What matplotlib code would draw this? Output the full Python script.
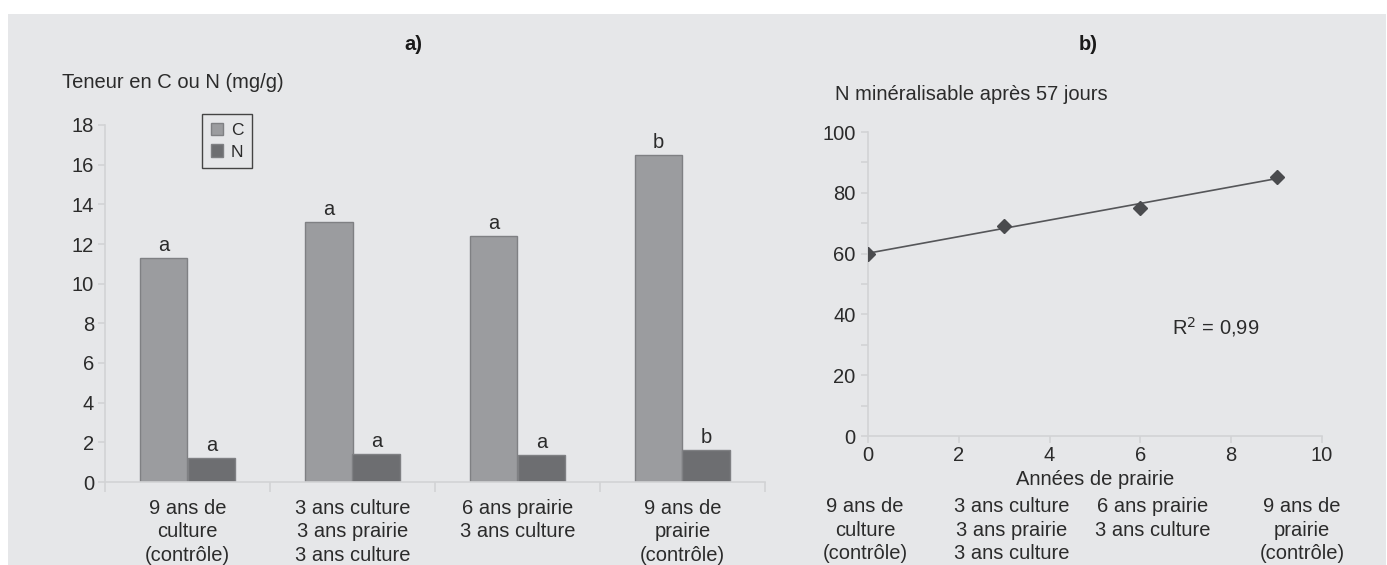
import matplotlib
matplotlib.use("Agg")
import matplotlib.pyplot as plt
import numpy as np
from matplotlib.patches import Rectangle, Patch

plt.rcParams['font.family'] = ['Liberation Sans', 'DejaVu Sans']

# ---- Data ----
categories = ["9 ans de\nculture\n(contrôle)",
              "3 ans culture\n3 ans prairie\n3 ans culture",
              "6 ans prairie\n3 ans culture",
              "9 ans de\nprairie\n(contrôle)"]
C_values = [11.3, 13.1, 12.4, 16.5]
N_values = [1.2, 1.4, 1.35, 1.6]
C_letters = ["a", "a", "a", "b"]
N_letters = ["a", "a", "a", "b"]

years_prairie = [0, 3, 6, 9]
N_mineral = [60.0, 69.2, 75.1, 85.3]
r2_text = "R$^2$ = 0,99"

W, H = 1387, 565
BG = "#e6e7e9"
C_COL = "#9b9c9f"
N_COL = "#6d6e71"
EDGE = "#7f8083"
AX_COL = "#d2d3d5"
TXT = "#2b2b2b"
FS = 14.5
LS = 1.3

fig = plt.figure(figsize=(W / 100, H / 100), dpi=100)
fig.patch.set_facecolor("white")
fig.patches.append(Rectangle((8 / W, 0), (W - 9) / W, (H - 14) / H,
                             transform=fig.transFigure, facecolor=BG,
                             edgecolor="none", zorder=-10))

def px_axes(l, t, r, b):
    return fig.add_axes([l / W, 1 - b / H, (r - l) / W, (b - t) / H])

def style(ax):
    ax.set_facecolor("none")
    for s in ["top", "right"]:
        ax.spines[s].set_visible(False)
    for s in ["left", "bottom"]:
        ax.spines[s].set_color(AX_COL)
        ax.spines[s].set_linewidth(1.2)
    ax.tick_params(which="both", colors=AX_COL, labelcolor=TXT,
                   labelsize=FS, width=1.2)

# ---- Panel a ----
axa = px_axes(105, 125, 765, 482)
style(axa)
x = np.arange(len(categories)) + 0.5
bw = 0.29
axa.bar(x - bw / 2, C_values, bw, color=C_COL, edgecolor=EDGE, linewidth=1.0, label="C")
axa.bar(x + bw / 2, N_values, bw, color=N_COL, edgecolor=EDGE, linewidth=1.0, label="N")
for xi, v, l in zip(x - bw / 2, C_values, C_letters):
    axa.annotate(l, (xi, v), xytext=(0, 2), textcoords="offset points",
                 ha="center", va="bottom", fontsize=FS, color=TXT)
for xi, v, l in zip(x + bw / 2, N_values, N_letters):
    axa.annotate(l, (xi, v), xytext=(0, 2), textcoords="offset points",
                 ha="center", va="bottom", fontsize=FS, color=TXT)
axa.set_xlim(0, len(categories))
axa.set_ylim(0, 18)
axa.set_yticks(np.arange(0, 19, 2))
axa.tick_params(axis="y", length=5, pad=3)
axa.set_xticks(np.arange(0, len(categories) + 1))
axa.set_xticklabels([])
axa.tick_params(axis="x", which="major", length=7)
axa.set_xticks(x, minor=True)
axa.set_xticklabels(categories, minor=True, linespacing=LS)
axa.tick_params(axis="x", which="minor", length=0, pad=12, labelsize=FS)

leg = axa.legend(handles=[Patch(facecolor=C_COL, edgecolor=EDGE, label="C"),
                          Patch(facecolor=N_COL, edgecolor=EDGE, label="N")],
                 loc="upper left", bbox_to_anchor=(202 / W, 1 - 114 / H),
                 bbox_transform=fig.transFigure, borderaxespad=0,
                 fontsize=12.5, handlelength=0.7, handleheight=0.7,
                 handletextpad=0.45, labelspacing=0.38, borderpad=0.5,
                 fancybox=False, framealpha=1, facecolor=BG, edgecolor="#444444")
leg.get_frame().set_linewidth(1.0)
for t in leg.get_texts():
    t.set_color(TXT)

fig.text(413 / W, 1 - 45 / H, "a)", ha="center", va="center",
         fontsize=FS, fontweight="bold", color="#1a1a1a")
fig.text(62 / W, 1 - 82 / H, "Teneur en C ou N (mg/g)", ha="left", va="center",
         fontsize=FS, color=TXT)

# ---- Panel b ----
axb = px_axes(868, 132, 1322, 436)
style(axb)
axb.plot(years_prairie, N_mineral, linestyle="none", marker="D", markersize=7,
         color="#4a4b4e", zorder=3)
coef = np.polyfit(years_prairie, N_mineral, 1)
xfit = np.array([min(years_prairie), max(years_prairie)])
axb.plot(xfit, np.polyval(coef, xfit), color="#555659", linewidth=1.2, zorder=2)
axb.set_xlim(0, 10)
axb.set_ylim(0, 100)
axb.set_xticks(np.arange(0, 11, 2))
axb.set_yticks(np.arange(0, 101, 20))
axb.set_yticks(np.arange(0, 101, 10), minor=True)
axb.tick_params(axis="both", which="both", length=5)
axb.tick_params(axis="y", pad=4)
axb.tick_params(axis="x", pad=2)
axb.set_xlabel("Années de prairie", fontsize=FS, color=TXT, labelpad=4)
axb.text(6.7, 36, r2_text, fontsize=FS, color=TXT, ha="left", va="center")

fig.text(1088 / W, 1 - 45 / H, "b)", ha="center", va="center",
         fontsize=FS, fontweight="bold", color="#1a1a1a")
fig.text(835 / W, 1 - 94 / H, "N minéralisable après 57 jours", ha="left",
         va="center", fontsize=FS, color=TXT)

b_label_x = [865, 1012, 1153, 1302]
for px, lab in zip(b_label_x, categories):
    fig.text(px / W, 1 - 497 / H, lab, ha="center", va="top", fontsize=FS,
             color=TXT, linespacing=LS)

fig.savefig("out.png", dpi=100)
